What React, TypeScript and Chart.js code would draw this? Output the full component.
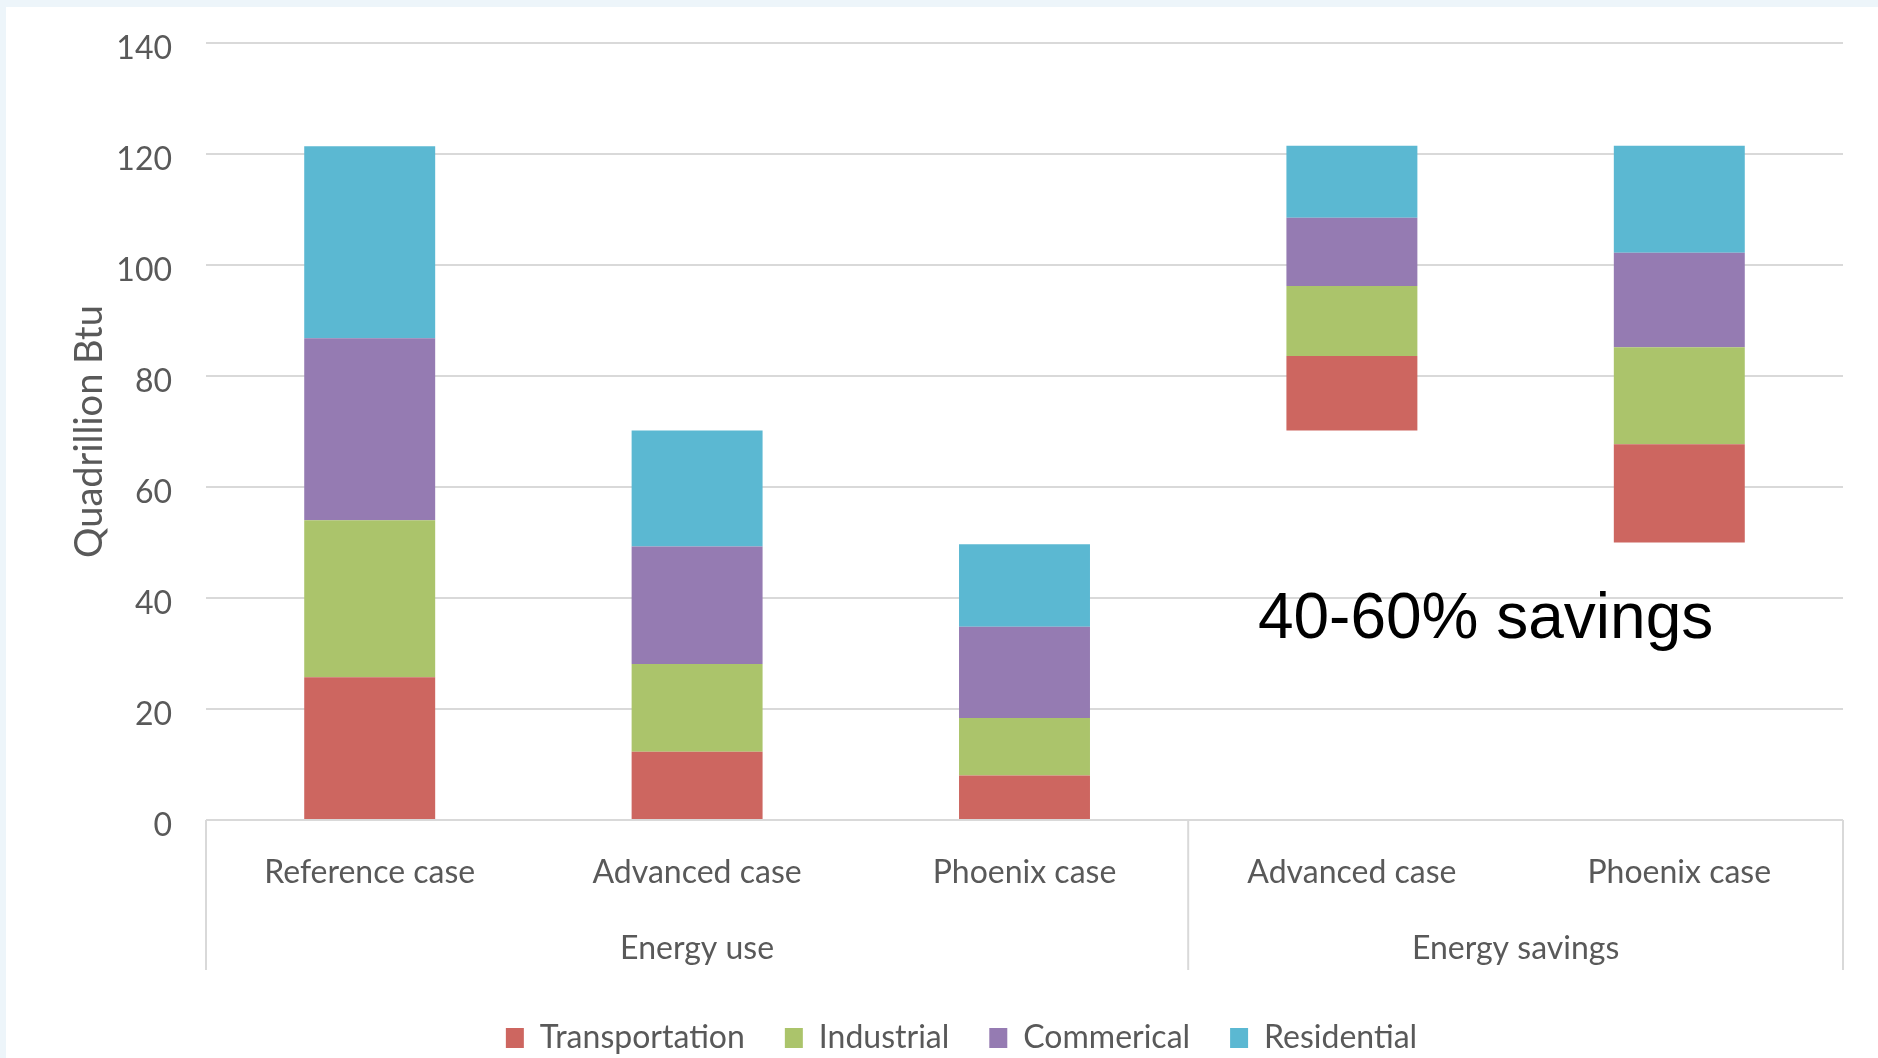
import { useEffect, useRef } from "react";
import { Chart, registerables } from "chart.js";

Chart.register(...registerables);

// ---- data ----
const categories = ["Reference case", "Advanced case", "Phoenix case", "Advanced case", "Phoenix case"];
const groups = ["Energy use", "Energy savings"];
const groupSizes = [3, 2];
const offsetBase = [0, 0, 0, 70.2, 50.0];
const transportation = [25.7, 12.3, 8.0, 13.4, 17.7];
const industrial = [28.3, 15.8, 10.4, 12.6, 17.5];
const commercial = [32.8, 21.2, 16.4, 12.3, 17.0];
const residential = [34.6, 20.9, 14.9, 13.0, 19.3];
const seriesNames = ["Transportation", "Industrial", "Commerical", "Residential"];
const yMin = 0;
const yMax = 140;
const yStep = 20;
const yTitle = "Quadrillion Btu";
const annotationText = "40-60% savings";
const annotationValue = 32.8;

const colors = ["#CD6660", "#ABC46B", "#957BB2", "#5BB8D2"];
const textGray = "#595959";
const gridGray = "#d9d9d9";
const FONT = "Lato, 'Open Sans', sans-serif";

const groupPlugin = {
  id: "groupLabels",
  afterDraw(chart: any) {
    const { ctx, chartArea, scales } = chart;
    const x = scales.x;
    const y = scales.y;
    const bounds: number[] = [chartArea.left];
    let idx = 0;
    groupSizes.forEach((n) => {
      idx += n;
      if (idx >= categories.length) bounds.push(chartArea.right);
      else bounds.push((x.getPixelForValue(idx - 1) + x.getPixelForValue(idx)) / 2);
    });
    ctx.save();
    ctx.strokeStyle = gridGray;
    ctx.lineWidth = 2;
    bounds.forEach((b) => {
      ctx.beginPath();
      ctx.moveTo(b, chartArea.bottom);
      ctx.lineTo(b, chartArea.bottom + 150);
      ctx.stroke();
    });
    ctx.fillStyle = textGray;
    ctx.font = `32px ${FONT}`;
    ctx.textAlign = "center";
    ctx.textBaseline = "middle";
    groups.forEach((g, i) => {
      ctx.fillText(g, (bounds[i] + bounds[i + 1]) / 2, chartArea.bottom + 129);
    });
    ctx.fillStyle = "#000000";
    ctx.font = `64px 'Liberation Sans', Arial, sans-serif`;
    ctx.textAlign = "left";
    ctx.textBaseline = "alphabetic";
    ctx.fillText(annotationText, x.getPixelForValue(3) - 94, y.getPixelForValue(annotationValue));
    ctx.restore();
  },
};

export default function App() {
  const canvasRef = useRef<HTMLCanvasElement | null>(null);

  useEffect(() => {
    document.body.style.margin = "0";
    document.body.style.overflow = "hidden";
    document.documentElement.style.overflow = "hidden";
    document.body.style.background = "#edf5fa";
    const canvas = canvasRef.current;
    if (!canvas) return;
    const seriesData = [transportation, industrial, commercial, residential];
    const chart = new Chart(canvas, {
      type: "bar",
      data: {
        labels: categories,
        datasets: [
          {
            label: "base",
            data: offsetBase,
            backgroundColor: "rgba(0,0,0,0)",
            borderWidth: 0,
            stack: "s",
          },
          ...seriesData.map((d, i) => ({
            label: seriesNames[i],
            data: d,
            backgroundColor: colors[i],
            borderWidth: 0,
            stack: "s",
          })),
        ],
      },
      plugins: [groupPlugin],
      options: {
        animation: false,
        responsive: true,
        maintainAspectRatio: false,
        events: [],
        layout: { autoPadding: false, padding: { top: 43, right: 35, left: 80, bottom: 0 } },
        datasets: { bar: { categoryPercentage: 1.0, barPercentage: 0.4 } },
        plugins: {
          tooltip: { enabled: false },
          legend: {
            position: "bottom",
            labels: {
              font: { family: FONT, size: 32 },
              color: textGray,
              boxWidth: 18,
              boxHeight: 20,
              padding: 40,
              filter: (item: any) => item.datasetIndex !== 0,
            },
          },
        },
        scales: {
          x: {
            stacked: true,
            grid: { display: false, drawTicks: false },
            border: { display: false },
            ticks: { font: { family: FONT, size: 32 }, color: textGray, padding: 33 },
            afterFit: (s: any) => {
              s.height = 162;
            },
          },
          y: {
            stacked: true,
            min: yMin,
            max: yMax,
            ticks: {
              stepSize: yStep,
              font: { family: FONT, size: 32 },
              color: textGray,
              padding: 0,
              labelOffset: 6,
            },
            grid: { color: gridGray, lineWidth: 2, drawTicks: true, tickLength: 34, tickColor: "rgba(0,0,0,0)" },
            border: { display: false },
            title: {
              display: true,
              text: yTitle,
              font: { family: FONT, size: 38, lineHeight: 1.2 },
              color: textGray,
              padding: { top: -13, bottom: 0 },
            },
            afterFit: (s: any) => {
              s.width = 126;
            },
          },
        },
      },
    });
    return () => chart.destroy();
  }, []);

  return (
    <div style={{ position: "absolute", left: 0, top: 0, width: 1878, height: 1058, overflow: "hidden" }}>
      <div style={{ position: "absolute", left: 6, top: 7, right: 0, bottom: 0, background: "#ffffff" }} />
      <div style={{ position: "absolute", left: 0, top: 0, width: 1878, height: 1064 }}>
        <canvas ref={canvasRef} />
      </div>
    </div>
  );
}
